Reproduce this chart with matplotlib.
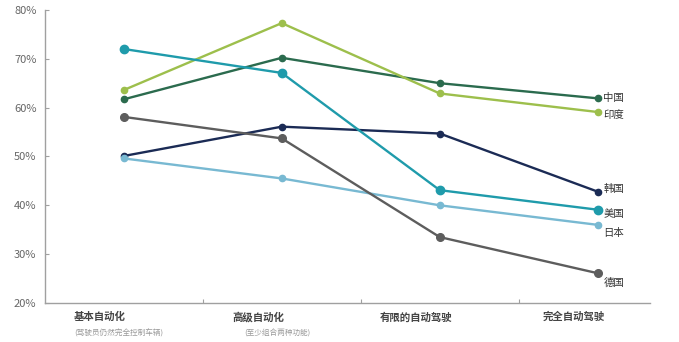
import matplotlib.pyplot as plt
import numpy as np

plt.rcParams['font.family'] = ['Noto Sans CJK SC', 'DejaVu Sans']

categories = ['基本自动化', '高级自动化', '有限的自动驾驶', '完全自动驾驶']
subtitles = ['(驾驶员仍然完全控制车辆)', '(至少组合两种功能)', '', '']
countries = ['中国', '印度', '韩国', '美国', '日本', '德国']
china = [61.7, 70.2, 65.0, 61.9]
india = [63.6, 77.3, 62.9, 59.1]
korea = [50.1, 56.1, 54.7, 42.8]
usa = [72.0, 67.1, 43.1, 39.1]
japan = [49.6, 45.5, 40.0, 36.0]
germany = [58.1, 53.7, 33.5, 26.1]

series = [china, india, korea, usa, japan, germany]
colors = ['#2b6b4e', '#9dbf4c', '#1b2b55', '#1f9bab', '#78b9d2', '#5d5d5d']
msizes = [4.5, 4.5, 4.5, 6, 4.5, 5.5]
label_dy = [0, -2, 2, -3, -6, -7]  # 标签的垂直偏移(像素)

fig = plt.figure(figsize=(6.79, 3.42), dpi=100)
ax = fig.add_axes([0.066, 0.114, 0.891, 0.857])
x = np.arange(len(categories))

for vals, c, ms, name, dy in zip(series, colors, msizes, countries, label_dy):
    ax.plot(x, vals, color=c, lw=1.7, marker='o', ms=ms, zorder=3)
    ax.annotate(name, (x[-1], vals[-1]), xytext=(4, dy), textcoords='offset points',
                ha='left', va='center', fontsize=7.5, color='#333333')

ax.set_xlim(-0.5, 3.33)
ax.set_ylim(20, 80)
ax.set_yticks(np.arange(20, 81, 10))
ax.set_yticklabels([f'{v}%' for v in range(20, 81, 10)], fontsize=8, color='#666666')
ax.set_xticks([0.5, 1.5, 2.5])
ax.set_xticklabels([])
ax.tick_params(axis='x', direction='in', length=3, color='#a0a0a0')
ax.tick_params(axis='y', direction='in', length=3, color='#a0a0a0', pad=6)

for s in ['top', 'right']:
    ax.spines[s].set_visible(False)
for s in ['left', 'bottom']:
    ax.spines[s].set_color('#a0a0a0')
    ax.spines[s].set_linewidth(1.0)

for i, (cat, sub) in enumerate(zip(categories, subtitles)):
    ax.text(i - 0.15, 17.1, cat, ha='center', va='center', fontsize=7.5,
            fontweight='bold', color='#444444')
    if sub:
        ax.text(i - 0.03, 13.7, sub, ha='center', va='center', fontsize=5.5,
                style='italic', color='#999999')

fig.savefig('out.png', dpi=100, facecolor='white')
